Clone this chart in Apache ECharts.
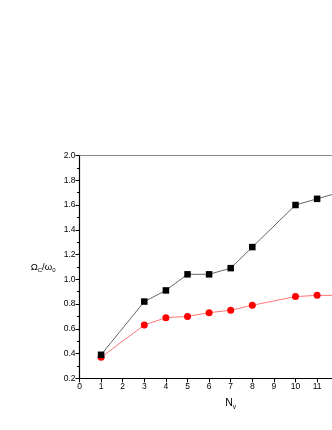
<!DOCTYPE html>
<html><head><meta charset="utf-8">
<script src="https://cdn.jsdelivr.net/npm/echarts@6/dist/echarts.min.js"></script>
<style>html,body{margin:0;padding:0;background:#fff;overflow:hidden;width:332px;height:430px}#c{width:400px;height:430px}</style>
</head><body><div id="c"></div>
<script>
var xBlack = [1, 3, 4, 5, 6, 7, 8, 10, 11, 12];
var yBlack = [0.39, 0.82, 0.91, 1.04, 1.04, 1.09, 1.26, 1.60, 1.65, 1.70];
var xRed = [1, 3, 4, 5, 6, 7, 8, 10, 11, 12];
var yRed = [0.37, 0.63, 0.69, 0.70, 0.73, 0.75, 0.79, 0.86, 0.87, 0.87];
var xMin = 0, xMax = 14, xStep = 1;
var yMin = 0.2, yMax = 2.0, yStep = 0.2;

function pairs(xs, ys){ return xs.map(function(x,i){ return [x, ys[i]]; }); }

var chart = echarts.init(document.getElementById('c'), null, {renderer:'canvas'});
var lab = {color:'#000', fontFamily:'Liberation Sans, Arial, sans-serif', fontSize:8.5};
chart.setOption({
  animation:false,
  backgroundColor:'#fff',
  grid:{left:79.5, top:155.5, bottom:51.7, width:302.4, containLabel:false},
  xAxis:[{
    type:'value', min:xMin, max:xMax, interval:xStep, position:'bottom',
    name:'{a|N}{s|v}', nameLocation:'middle', nameGap:17,
    nameTextStyle:{rich:{a:{fontFamily:'Liberation Sans, Arial, sans-serif', fontSize:10.5, color:'#000'}, s:{fontFamily:'Liberation Sans, Arial, sans-serif', fontSize:6.5, color:'#000', padding:[8,0,0,0]}}},
    axisLine:{onZero:false, lineStyle:{color:'#000', width:1.2}},
    axisTick:{show:true, inside:false, length:4, lineStyle:{color:'#000'}},
    minorTick:{show:false},
    axisLabel:Object.assign({margin:4}, lab),
    splitLine:{show:false}
  },{
    type:'value', min:xMin, max:xMax, interval:xStep, position:'top',
    axisLine:{onZero:false, lineStyle:{color:'#888', width:1.2}},
    axisTick:{show:false}, axisLabel:{show:false}, splitLine:{show:false}
  }],
  yAxis:[{
    type:'value', min:yMin, max:yMax, interval:yStep,
    name:'{a|Ω}{s|C}{a|/ω}{s|0}', nameLocation:'middle', nameGap:24, nameRotate:0,
    nameTextStyle:{rich:{a:{fontFamily:'Liberation Sans, Arial, sans-serif', fontSize:9.5, color:'#000'}, s:{fontFamily:'Liberation Sans, Arial, sans-serif', fontSize:6, color:'#000', padding:[7,0,0,0]}}},
    axisLine:{show:true, onZero:false, lineStyle:{color:'#000', width:1.2}},
    axisTick:{show:true, inside:false, length:4, lineStyle:{color:'#000'}},
    minorTick:{show:true, splitNumber:2, length:2.5, lineStyle:{color:'#000'}},
    axisLabel:Object.assign({margin:4, formatter:function(v){return v.toFixed(1);}}, lab),
    splitLine:{show:false}
  }],
  series:[{
    type:'line', data:pairs(xBlack, yBlack), symbol:'rect', symbolSize:6.5,
    itemStyle:{color:'#000'}, lineStyle:{color:'#555', width:0.9}, z:3
  },{
    type:'line', data:pairs(xRed, yRed), symbol:'circle', symbolSize:7,
    itemStyle:{color:'#ff0000'}, lineStyle:{color:'#ff6666', width:0.9}, z:2
  }]
});
</script></body></html>
